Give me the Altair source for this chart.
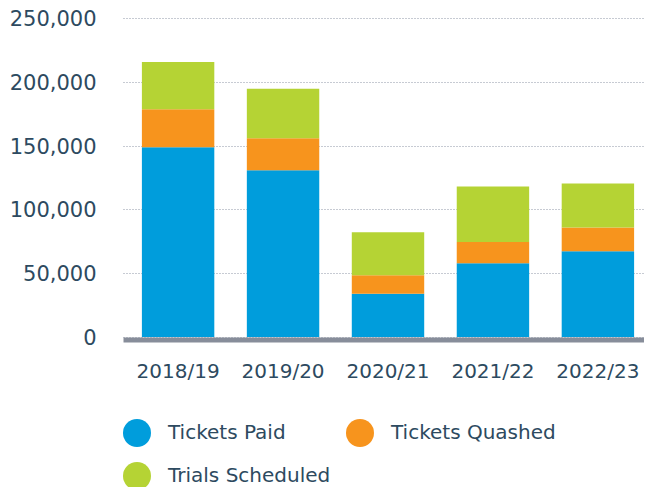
import altair as alt
import pandas as pd

years = ["2018/19", "2019/20", "2020/21", "2021/22", "2022/23"]
tickets_paid = [148700, 130700, 33800, 57800, 67200]
tickets_quashed = [29700, 25000, 14600, 16700, 18700]
trials_scheduled = [37200, 38800, 33600, 43500, 34400]
series = ["Tickets Paid", "Tickets Quashed", "Trials Scheduled"]
legend_order = ["Tickets Paid", "Trials Scheduled", "Tickets Quashed"]
colors = ["#009ddc", "#f7941d", "#b5d334"]
y_ticks = [0, 50000, 100000, 150000, 200000, 250000]

rows = []
for s_i, (name, vals) in enumerate(zip(series, [tickets_paid, tickets_quashed, trials_scheduled])):
    for yr, v in zip(years, vals):
        rows.append({"year": yr, "series": name, "value": v, "order": s_i})
df = pd.DataFrame(rows)

text_color = "#2d4a60"
font = "DejaVu Sans"

chart = alt.Chart(df).mark_bar().encode(
    x=alt.X(
        "year:N", sort=years,
        scale=alt.Scale(paddingInner=0.31, paddingOuter=0.18),
        axis=alt.Axis(title=None, labelAngle=0, ticks=False, grid=False,
                      domainColor="#878d9a", domainWidth=5, offset=2.5,
                      labelPadding=22, labelFontSize=20, labelColor=text_color,
                      labelFont=font),
    ),
    y=alt.Y(
        "value:Q", stack="zero",
        scale=alt.Scale(domain=[0, 250000], nice=False),
        axis=alt.Axis(title=None, values=y_ticks, format=",.0f", domain=False, ticks=False,
                      labelPadding=27, labelFontSize=21, labelColor=text_color, labelFont=font,
                      labelBaseline="alphabetic", labelOffset=7.5,
                      gridColor="#8f96a6", gridDash=[1, 2], gridWidth=1),
    ),
    color=alt.Color(
        "series:N",
        scale=alt.Scale(domain=series, range=colors),
        legend=alt.Legend(title=None, orient="none", legendX=0, legendY=401, columns=2,
                          values=legend_order,
                          symbolType="circle", symbolSize=784, symbolStrokeWidth=0,
                          symbolOpacity=1, labelFontSize=20, labelOffset=17, labelLimit=400,
                          rowPadding=15, columnPadding=15, labelColor=text_color,
                          labelFont=font),
    ),
    order=alt.Order("order:Q"),
).properties(
    width=530, height=319,
    padding={"left": 115, "top": 10, "right": -9, "bottom": 150},
    autosize=alt.AutoSizeParams(type="none"),
).configure_view(stroke=None)

chart.save("out.html", embed_options={"renderer": "svg", "actions": False})
